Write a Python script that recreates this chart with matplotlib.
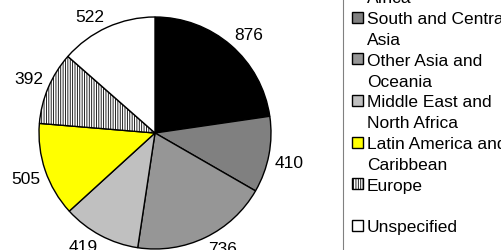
import numpy as np
import matplotlib.pyplot as plt
from matplotlib.patches import Rectangle

plt.rcParams['font.family'] = ['Liberation Sans', 'DejaVu Sans']
plt.rcParams['hatch.linewidth'] = 0.6

# data
regions = ['Sub-Saharan\nAfrica', 'South and Central\nAsia', 'Other Asia and\nOceania',
           'Middle East and\nNorth Africa', 'Latin America and\nCaribbean', 'Europe', 'Unspecified']
values = [876, 410, 736, 419, 505, 392, 522]
colors = ['#000000', '#808080', '#969696', '#c0c0c0', '#ffff00', '#ffffff', '#ffffff']
hatches = [None, None, None, None, None, '|||||||', None]

W, H = 501, 251
fig = plt.figure(figsize=(W / 100, H / 100), dpi=100)

# pie: centre (155,134) px, radius 116 px
cx, cy, r = 155, 134, 116
ax = fig.add_axes([(cx - r) / W, 1 - (cy + r) / H, 2 * r / W, 2 * r / H])
wedges, _ = ax.pie(values, colors=colors, startangle=90, counterclock=False,
                   wedgeprops=dict(edgecolor='black', linewidth=1.0))
for w, h in zip(wedges, hatches):
    w.set_clip_on(False)
    if h:
        w.set_hatch(h)
ax.set_xlim(-1, 1)
ax.set_ylim(-1, 1)
ax.axis('off')

# value labels, outside end
for w, v in zip(wedges, values):
    ang = np.deg2rad((w.theta1 + w.theta2) / 2)
    c, s = np.cos(ang), np.sin(ang)
    ax.annotate(str(v), xy=(1.04 * c, 1.04 * s), xytext=(11 * np.sign(c), 5 * np.sign(s)),
                textcoords='offset points', ha='center', va='center', fontsize=12.5,
                annotation_clip=False)

# legend (clipped at top and right)
fig.patches.append(Rectangle((342.5 / W, -0.1), 0.5, 1.2, transform=fig.transFigure,
                             fill=False, edgecolor='#808080', linewidth=0.8))
line_h = 20.85
y0 = 18 - 2 * line_h
for i, (lab, col, h) in enumerate(zip(regions, colors, hatches)):
    y = y0 + i * 2 * line_h
    sw = Rectangle((352 / W, 1 - (y + 5.5) / H), 11 / W, 11 / H, transform=fig.transFigure,
                   facecolor=col, edgecolor='black', linewidth=1.0, hatch=h)
    fig.patches.append(sw)
    for j, part in enumerate(lab.split('\n')):
        fig.text(367 / W, 1 - (y + j * line_h) / H, part, ha='left', va='center_baseline',
                 fontsize=12.5)

fig.savefig('out.png', dpi=100)
